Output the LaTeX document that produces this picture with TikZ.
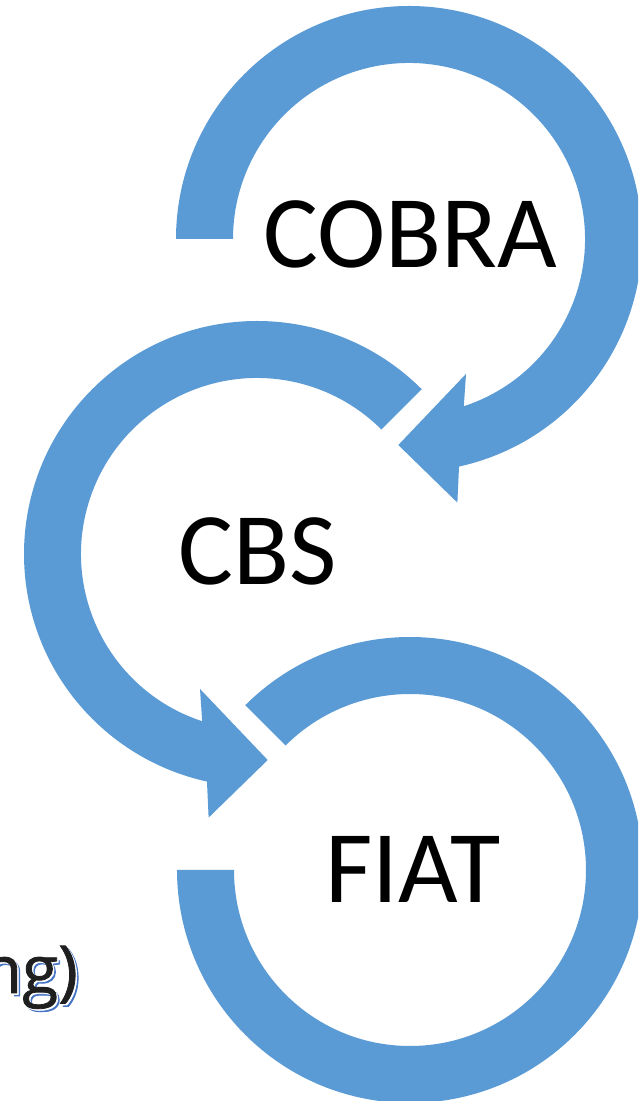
\documentclass[tikz,border=0pt]{standalone}
\usepackage{fontspec}
\setmainfont{Carlito}
\newfontfamily\titlefont[FakeBold=1.2]{Open Sans}
\definecolor{arrowblue}{RGB}{91,155,213}
\definecolor{shadowblue}{RGB}{68,114,196}
\begin{document}
\begin{tikzpicture}[x=1pt,y=1pt,
  arrowband/.style={fill=arrowblue,draw=none},
  wordtxt/.style={font=\fontsize{103}{120}\selectfont,text=black,anchor=base,inner sep=0pt},
  titletxt/.style={font=\titlefont\fontsize{66}{76}\selectfont,anchor=base east,inner sep=0pt}]
\useasboundingbox (0,0) rectangle (638,1101);
\clip (0,0) rectangle (638,1101);
\fill[white] (0,0) rectangle (638,1101);
\coordinate (cobra-c) at (409,862);
\coordinate (cbs-c) at (257,547);
\coordinate (fiat-c) at (410,231);
% COBRA arrow
\begin{scope}[shift={(cobra-c)}]
\fill[arrowband] (180:233) arc[start angle=180,end angle=-77.6,radius=233]
  -- (-79.6:268) -- (-92.97:206.3) -- (-67.1:146.5) -- (-71.85:176)
  arc[start angle=-71.85,end angle=180,radius=176] -- cycle;
\end{scope}
% CBS arrow
\begin{scope}[shift={(cbs-c)}]
\fill[arrowband] (45:233) arc[start angle=45,end angle=257.6,radius=233]
  -- (259.6:268) -- (272.97:206.3) -- (247.1:146.5) -- (251.85:176)
  arc[start angle=251.85,end angle=45,radius=176] -- cycle;
\end{scope}
% FIAT arc
\begin{scope}[shift={(fiat-c)}]
\fill[arrowband] (135:233) arc[start angle=135,end angle=-180,radius=233]
  -- (-180:176) arc[start angle=-180,end angle=135,radius=176] -- cycle;
\end{scope}
\node[wordtxt] (cobra) at (410,833) {COBRA};
\node[wordtxt] (cbs) at (258,516) {CBS};
\node[wordtxt] (fiat) at (413,198) {FIAT};
\node[titletxt,text=shadowblue] (titleshadow) at (81,105) {ng)};
\node[titletxt,text=white] (titlegap) at (79.5,106.5) {ng)};
\node[titletxt,text=black!88] (title) at (78,108) {ng)};
\end{tikzpicture}
\end{document}
